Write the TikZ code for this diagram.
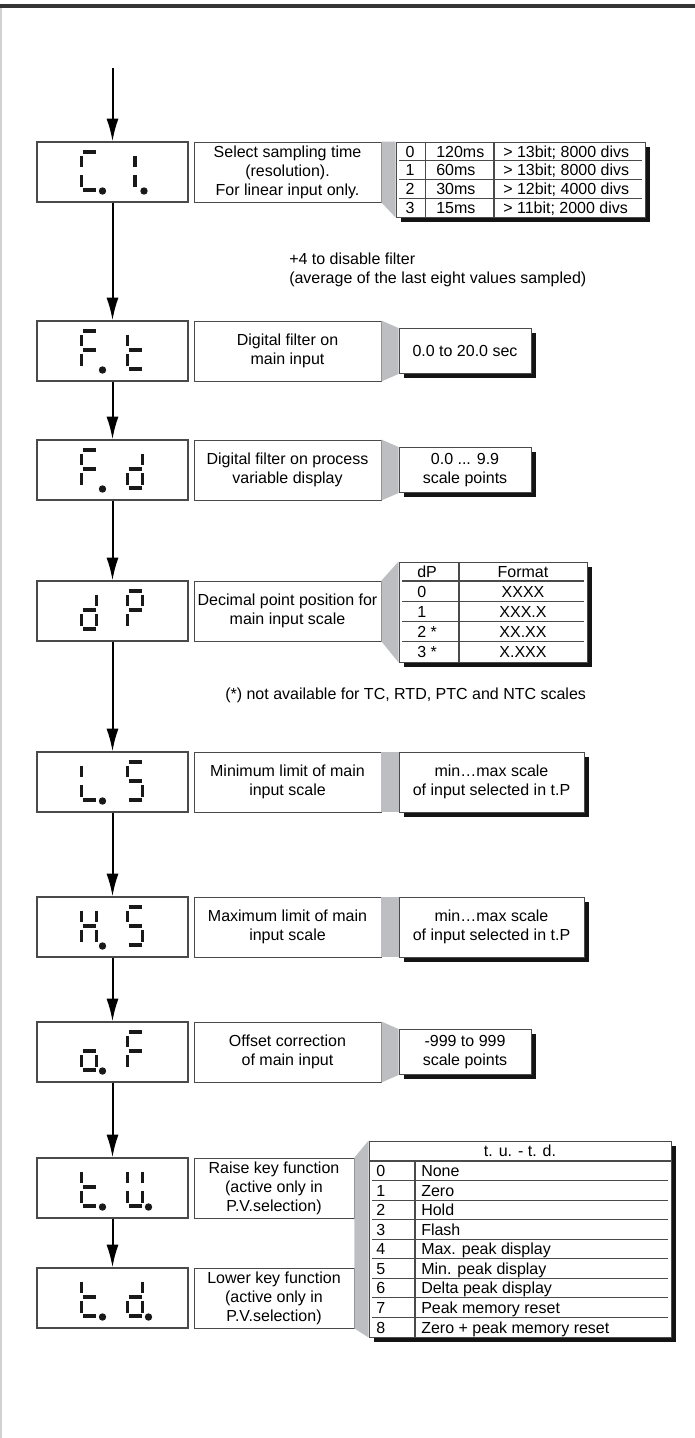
\documentclass[tikz,border=0pt]{standalone}
\usepackage{fontspec}
\setmainfont{Liberation Sans}
\usetikzlibrary{arrows.meta,shadows}

\definecolor{edgegrey}{HTML}{4A4A4A}
\definecolor{linkgrey}{HTML}{BDBEC1}
\definecolor{topbar}{HTML}{353535}

% seven segment pieces, relative to the digit's top left corner
\newcommand{\sega}{\draw[seg] (1,0) -- (14,0);}
\newcommand{\segb}{\draw[seg] (15,3.5) -- (15,15);}
\newcommand{\segc}{\draw[seg] (15,23) -- (15,34.5);}
\newcommand{\segd}{\draw[seg] (1,38) -- (14,38);}
\newcommand{\sege}{\draw[seg] (0,23) -- (0,34.5);}
\newcommand{\segf}{\draw[seg] (0,3.5) -- (0,15);}
\newcommand{\segg}{\draw[seg] (1,19) -- (14,19);}
\newcommand{\segi}{\draw[seg] (7.5,3.5) -- (7.5,15);}
\newcommand{\segj}{\draw[seg] (7.5,23) -- (7.5,34.5);}
\newcommand{\segp}{\fill[black!90] (21,39) circle (3.7);}
\newcommand{\segq}{\fill[black!90] (16.5,39) circle (3.7);}
\newcommand{\sevseg}[3]{\begin{scope}[shift={(#1,#2)}]\foreach \s in {#3}{\csname seg\s\endcsname}\end{scope}}

\begin{document}
\begin{tikzpicture}[
    x=0.75pt, y=-0.75pt,
    >={Latex[length=17pt,width=9pt]},
    font=\fontsize{12}{14.3}\selectfont,
    seg/.style={line width=2.4pt, black!90},
    flow/.style={->, line width=1.5pt},
    disp/.style={draw=edgegrey, line width=0.9pt, minimum width=113.25pt, minimum height=45pt, inner sep=0pt},
    desc/.style={draw=edgegrey, line width=0.7pt, minimum width=140.25pt, minimum height=45pt,
                 inner sep=0pt, align=center},
    valbox/.style={draw=edgegrey, line width=0.7pt, fill=white, inner sep=0pt, align=center,
                   drop shadow={fill=black!92, opacity=1, shadow xshift=3.6pt, shadow yshift=-3.6pt}},
    cell/.style={inner sep=0pt, text height=8.6pt, text depth=0pt},
    rule/.style={edgegrey, line width=0.8pt},
  ]
    \useasboundingbox (0,0) rectangle (695,1438);
    \fill[topbar] (0,4.5) rectangle (695,8.5);
    \draw[black!18, line width=1pt] (1,8.5) -- (1,1438);

    % displays
    \node[disp] (ci) at (112.5,172)  {};
    \node[disp] (ft) at (112.5,351)  {};
    \node[disp] (fd) at (112.5,470)  {};
    \node[disp] (dp) at (112.5,611)  {};
    \node[disp] (ls) at (112.5,782)  {};
    \node[disp] (hs) at (112.5,927)  {};
    \node[disp] (of) at (112.5,1052) {};
    \node[disp] (tu) at (112.5,1188) {};
    \node[disp] (td) at (112.5,1298) {};

    \sevseg{81.5}{152}{a,f,e,d,p}   \sevseg{127.5}{152}{i,j,q}
    \sevseg{81.5}{331}{a,f,g,e,p}   \sevseg{127.5}{331}{f,g,e,d}
    \sevseg{81.5}{450}{a,f,g,e,p}   \sevseg{127.5}{450}{b,c,g,e,d}
    \sevseg{81.5}{591}{b,c,g,e,d}   \sevseg{127.5}{591}{a,b,f,g,e}
    \sevseg{81.5}{762}{f,e,d,p}     \sevseg{127.5}{762}{a,f,g,c,d}
    \sevseg{81.5}{907}{f,b,g,e,c,p} \sevseg{127.5}{907}{a,f,g,c,d}
    \sevseg{81.5}{1032}{g,e,c,d,p}  \sevseg{127.5}{1032}{a,f,g,e}
    \sevseg{81.5}{1168}{f,g,e,d,p}  \sevseg{127.5}{1168}{f,b,e,c,d,p}
    \sevseg{81.5}{1278}{f,g,e,d,p}  \sevseg{127.5}{1278}{b,c,g,e,d,p}

    % descriptions
    \node[desc] (ci-d) at (287.5,172)  {Select sampling time\\(resolution).\\For linear input only.};
    \node[desc] (ft-d) at (287.5,351)  {Digital filter on\\main input};
    \node[desc] (fd-d) at (287.5,470)  {Digital filter on process\\variable display};
    \node[desc] (dp-d) at (287.5,611)  {Decimal point position for\\main input scale};
    \node[desc] (ls-d) at (287.5,782)  {Minimum limit of main\\input scale};
    \node[desc] (hs-d) at (287.5,927)  {Maximum limit of main\\input scale};
    \node[desc] (of-d) at (287.5,1052) {Offset correction\\of main input};
    \node[desc, minimum width=120pt] (tu-d) at (274,1188) {Raise key function\\(active only in\\P.V.selection)};
    \node[desc, minimum width=120pt] (td-d) at (274,1298) {Lower key function\\(active only in\\P.V.selection)};

    % values
    \node[valbox, minimum width=186.75pt, minimum height=56.25pt] (ci-v) at (520.5,179.5) {};
    \node[valbox, minimum width=99pt, minimum height=33.75pt] (ft-v) at (465,351) {0.0 to 20.0 sec};
    \node[valbox, minimum width=99pt, minimum height=33.75pt] (fd-v) at (465,470) {0.0 ... 9.9\\scale points};
    \node[valbox, minimum width=141pt, minimum height=75pt] (dp-v) at (493,612) {};
    \node[valbox, minimum width=138.75pt, minimum height=45pt] (ls-v) at (491.5,782) {min…max scale\\of input selected in t.P};
    \node[valbox, minimum width=138.75pt, minimum height=45pt] (hs-v) at (491.5,927) {min…max scale\\of input selected in t.P};
    \node[valbox, minimum width=99pt, minimum height=33.75pt] (of-v) at (465,1052) {-999 to 999\\scale points};
    \node[valbox, minimum width=226.5pt, minimum height=147pt] (tkey) at (520,1239) {};

    % grey links between description and value
    \foreach \a in {ci, ft, fd, dp, ls, hs, of}
      \fill[linkgrey] (\a-d.north east) -- (\a-v.north west) -- (\a-v.south west) -- (\a-d.south east) -- cycle;
    \fill[linkgrey] (tu-d.north east) -- (tkey.north west) -- (tkey.south west) -- (td-d.south east) -- cycle;

    % sampling table
    \draw[rule] (425.7,142) -- (425.7,217) (494,142) -- (494,217);
    \foreach \y in {160.75,179.5,198.25} \draw[rule] (399,\y) -- (642,\y);
    \foreach \n/\ms/\res [count=\i from 0] in {0/120ms/{> 13bit; 8000 divs}, 1/60ms/{> 13bit; 8000 divs},
                                              2/30ms/{> 12bit; 4000 divs}, 3/15ms/{> 11bit; 2000 divs}} {
      \node[cell] (ci-n\i) at (410,151.4+18.75*\i) {\n};
      \node[cell, anchor=west] (ci-ms\i) at (436,151.4+18.75*\i) {\ms};
      \node[cell, anchor=west] (ci-r\i) at (503,151.4+18.75*\i) {\res};
    }

    % decimal point table
    \draw[rule] (459,562) -- (459,662);
    \foreach \y in {581,601.25,621.5,641.75} \draw[rule] (402,\y) -- (584,\y);
    \foreach \k/\f [count=\i from 0] in {dP/Format, 0/XXXX, 1/XXX.X, 2 */XX.XX, 3 */X.XXX} {
      \node[cell, anchor=west] (dp-k\i) at (417,571.5+20*\i) {\k};
      \node[cell] (dp-f\i) at (523,571.5+20*\i) {\f};
    }

    % key function table
    \node[cell] (tkey-h) at (520,1151) {t. u. - t. d.};
    \draw[rule] (369,1161) -- (671,1161);
    \draw[rule] (415,1161) -- (415,1337);
    \foreach \i in {1,...,8} \draw[rule] (372,1161+19.56*\i) -- (668,1161+19.56*\i);
    \foreach \n/\f [count=\i from 0] in {0/None, 1/Zero, 2/Hold, 3/Flash, 4/Max. peak display,
                                        5/Min. peak display, 6/Delta peak display, 7/Peak memory reset,
                                        8/Zero + peak memory reset} {
      \node[cell, anchor=west] (tkey-n\i) at (376,1170.8+19.56*\i) {\n};
      \node[cell, anchor=west] (tkey-f\i) at (421,1170.8+19.56*\i) {\f};
    }

    % notes
    \node[anchor=west, align=left, inner sep=0pt] (filtnote) at (289,269.5)
      {+4 to disable filter\\(average of the last eight values sampled)};
    \node[anchor=west, inner sep=0pt] (tcnote) at (225,695)
      {(*) not available for TC, RTD, PTC and NTC scales};

    % flow
    \coordinate (start) at (112.5,68);
    \draw[flow] (start) -- (ci);
    \foreach \a/\b in {ci/ft, ft/fd, fd/dp, dp/ls, ls/hs, hs/of, of/tu, tu/td} \draw[flow] (\a) -- (\b);
  \end{tikzpicture}
\end{document}
